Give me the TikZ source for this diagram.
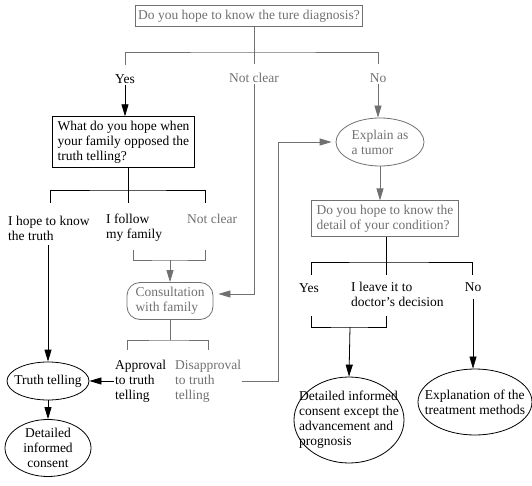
\documentclass[tikz,border=0pt]{standalone}
\usepackage{fontspec}
\setmainfont{Liberation Serif}
\usetikzlibrary{arrows.meta,shapes.geometric}
\definecolor{FCGray}{HTML}{707070}

\begin{document}
\begin{tikzpicture}[x=1pt,y=-1pt,
  every node/.style={font=\fontsize{13.5}{15}\selectfont},
  qbox/.style={draw,line width=.8pt,align=left,inner xsep=4pt,inner ysep=4pt},
  oval/.style={draw,ellipse,inner sep=0pt,line width=.8pt},
  lbl/.style={align=left,inner sep=1pt},
  faint/.style={color=FCGray},
  link/.style={line width=.8pt},
  arr/.style={link,-{Triangle[length=12pt,width=7pt]}}]
\path[use as bounding box] (0,0) rectangle (532,486);
% first question
\node[qbox,faint,inner xsep=2.5pt] (q1) at (249,16) {Do you hope to know the ture diagnosis?};
\node[lbl] (yes1) at (125,79) {Yes};
\node[lbl,faint] (nc1) at (254,78) {Not clear};
\node[lbl,faint] (no1) at (378,78) {No};
\coordinate (j1) at (254,52);
\draw[link,faint] (q1.south -| j1) -- (j1);
\draw[link,faint,shorten <=8pt,shorten >=8pt] (yes1.north) |- (j1) -| (no1.north);
\draw[link,faint,shorten >=8pt] (j1) -- (nc1.north);
% yes branch
\node[qbox,line width=1.1pt,inner xsep=5pt] (q2) at (123.5,142) {What do you hope when\\your family opposed the\\truth telling?};
\draw[arr] (yes1.south) -- (yes1.south |- q2.north);
\node[lbl,anchor=west] (a1) at (7,228) {I hope to know\\the truth};
\node[lbl,anchor=west] (a2) at (105,228) {I follow\\my family};
\node[lbl,anchor=west,faint] (a3) at (186,219) {Not clear};
\coordinate (j2) at (128,190);
\coordinate (b2a) at (50,203);
\coordinate (b2b) at (128,203);
\coordinate (b2c) at (205,203);
\draw[link] (q2.south -| j2) -- (b2b);
\draw[link] (b2a) |- (j2) -| (b2c);
% consultation
\node[draw,faint,link,rounded corners=13pt,minimum width=86,minimum height=37,align=left,inner sep=2pt] (cons) at (170,301) {Consultation\\with family};
\coordinate (k1) at (133,250);
\coordinate (k2) at (170,260);
\coordinate (k3) at (205,250);
\draw[link,faint] (k1) |- (k2) -| (k3);
\draw[arr,faint] (k2) -- (cons.north);
\draw[arr,faint,shorten >=5pt] (nc1.south) |- ([yshift=7pt]cons.east);
\coordinate (j4) at (170,340);
\coordinate (m1) at (127,350);
\coordinate (m2) at (208,350);
\draw[link,faint] (cons.south) -- (j4);
\draw[link,faint] (m1) |- (j4) -| (m2);
\node[lbl,anchor=west] (ap) at (114,381) {Approval\\to truth\\telling};
\node[lbl,anchor=west,faint] (dis) at (174,381) {Disapproval\\to truth\\telling};
% truth telling
\node[oval,minimum width=82,minimum height=38] (tt) at (48,381) {};
\node[lbl] at (tt) {Truth telling};
\node[oval,minimum width=86,minimum height=57] (dic) at (48,448) {};
\node[lbl,align=center] at (dic) {Detailed\\informed\\consent};
\draw[arr,shorten <=4pt] (a1.south -| tt.north) -- (tt.north);
\draw[arr] (ap.west) -- (tt.east);
\draw[arr] (tt.south) -- (dic.north);
% no branch
\node[oval,faint,minimum width=88,minimum height=48] (ex) at (380,142) {};
\node[lbl,faint] at (ex) {Explain as\\a tumor};
\coordinate (u1) at (278,142);
\draw[arr,faint,shorten >=4pt] (dis.east) -| (u1) -- (ex.west);
\draw[arr,faint] (no1.south) -- (no1.south |- ex.north);
\node[qbox,faint,inner xsep=5pt] (q3) at (385,218.5) {Do you hope to know the\\detail of your condition?};
\draw[arr,faint] (ex.south) -- (ex.south |- q3.north);
\node[lbl] (yes2) at (309,288) {Yes};
\node[lbl,anchor=west] (lv) at (350,294) {I leave it to\\doctor's decision};
\node[lbl] (no2) at (473,287) {No};
\coordinate (j3) at (386,262);
\coordinate (c1) at (311,275);
\coordinate (c2) at (472,275);
\draw[link] (q3.south -| j3) -- (j3);
\draw[link] (j3) -- (j3 |- c1);
\draw[link] (c1) |- (j3) -| (c2);
\coordinate (d1) at (311,316);
\coordinate (dm) at (350,327);
\coordinate (d2) at (386,316);
\draw[link] (d1) |- (dm) -| (d2);
% final ovals
\node[oval,minimum width=110,minimum height=86] (dic2) at (349,420) {};
\node[lbl] at (dic2) {Detailed informed\\consent except the\\advancement and\\prognosis};
\node[oval,minimum width=114,minimum height=66] (ex2) at (475,402) {};
\node[lbl] at (ex2) {Explanation of the\\treatment methods};
\draw[arr] (dm) -- (dic2.north);
\draw[arr,line width=.5pt,shorten <=6pt] (no2.south) -- (no2.south |- ex2.north);
\end{tikzpicture}
\end{document}
